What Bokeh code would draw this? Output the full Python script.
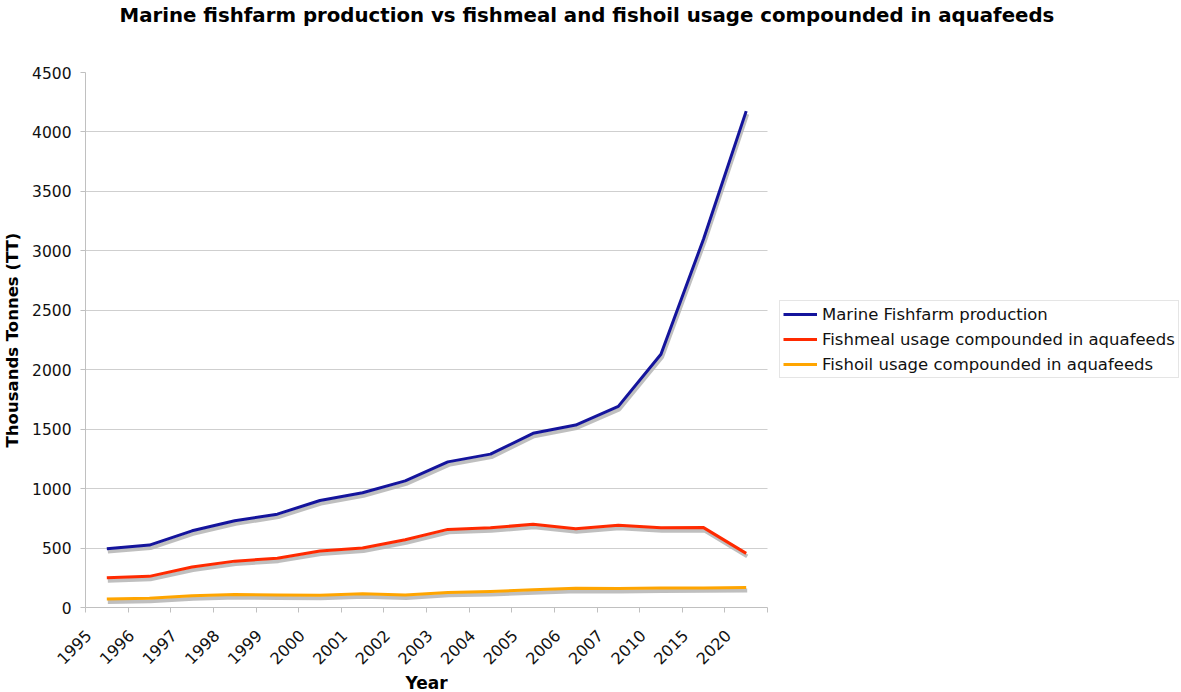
import numpy as np
from bokeh.plotting import figure
from bokeh.models import (Range1d, FixedTicker, SingleIntervalTicker, Legend, LegendItem,
                          BoxAnnotation, Title)
from bokeh.embed import file_html
from bokeh.resources import INLINE

# Category labels along the x axis
years = ["1995", "1996", "1997", "1998", "1999", "2000", "2001", "2002",
         "2003", "2004", "2005", "2006", "2007", "2010", "2015", "2020"]

# Thousands of tonnes
marine_fishfarm = [495, 525, 645, 730, 785, 900, 965, 1065, 1225, 1290,
                   1465, 1535, 1692, 2130, 3100, 4175]
fishmeal_usage = [250, 262, 340, 390, 415, 475, 500, 570, 657, 670,
                  700, 662, 692, 670, 672, 455]
fishoil_usage = [72, 78, 98, 110, 105, 103, 115, 105, 127, 135,
                 150, 162, 160, 163, 165, 168]

series_names = ["Marine Fishfarm production",
                "Fishmeal usage compounded in aquafeeds",
                "Fishoil usage compounded in aquafeeds"]
series_colors = ["#14149c", "#ff2a00", "#ffa500"]

FONT = "DejaVu Sans"
n = len(years)
centers = [i + 0.5 for i in range(n)]
bounds = [float(i) for i in range(n + 1)]
# rotated year labels end a little left of each category centre
label_pos = [i + 0.07 for i in range(n)]

# The frame runs to the right edge of the page; the data occupy the first
# 682 px of it and the legend sits in the remaining strip.
FRAME_W, DATA_W = 1097, 682
x_end = n * FRAME_W / DATA_W

p = figure(frame_width=FRAME_W, frame_height=535,
           x_range=Range1d(0, x_end), y_range=Range1d(0, 4500),
           output_backend="svg", toolbar_location=None,
           min_border_left=84, min_border_right=0, min_border_top=72,
           min_border_bottom=80, outline_line_color=None)

# Offset ranges used to draw a drop shadow a few pixels below/right of each line
p.extra_x_ranges = {"shadow": Range1d(-0.024, x_end - 0.024)}
p.extra_y_ranges = {"shadow": Range1d(25, 4525)}

# blank trailing lines lift the heading to the top edge of the page
p.title.text = "Marine fishfarm production vs fishmeal and fishoil usage compounded in aquafeeds\n \n "
p.title.text_font = FONT
p.title.text_font_size = "19.75px"
p.title.text_font_style = "bold"
p.title.text_color = "#000000"
p.title.align = "left"
p.title.offset = 34
p.title.standoff = 0
p.title.vertical_align = "bottom"

all_series = [marine_fishfarm, fishmeal_usage, fishoil_usage]
for vals in all_series:
    p.line(centers, vals, line_color="#b4b4b4", line_width=4, line_alpha=0.85,
           line_join="round", x_range_name="shadow", y_range_name="shadow")

items = []
for vals, name, col in zip(all_series, series_names, series_colors):
    r = p.line(centers, vals, line_color=col, line_width=3, line_join="round")
    items.append(LegendItem(label=name, renderers=[r]))

# blank out gridlines to the right of the data area
p.add_layout(BoxAnnotation(left=n, fill_color="white", fill_alpha=1,
                           line_color=None, level="underlay"))

# x axis: year labels near category centres, small ticks at category boundaries
xa = p.xaxis[0]
xa.bounds = (0, n)
xa.ticker = FixedTicker(ticks=label_pos, minor_ticks=bounds)
xa.major_label_overrides = {c: y for c, y in zip(label_pos, years)}
xa.major_label_orientation = np.pi / 4
xa.major_tick_out = 0
xa.major_tick_in = 0
xa.minor_tick_out = 5
xa.minor_tick_in = 0
xa.minor_tick_line_color = "#c0c0c0"
xa.axis_line_color = "#c0c0c0"
xa.major_label_text_font = FONT
xa.major_label_text_font_size = "16px"
xa.major_label_text_color = "#111111"
xa.major_label_standoff = 20

# axis title centred under the data area (not the full frame)
year_title = Title(text="Year", align="left", offset=320, standoff=0,
                   vertical_align="top", text_font=FONT, text_font_size="17px",
                   text_font_style="bold", text_color="#000000")
p.add_layout(year_title, "below")

ya = p.yaxis[0]
ya.ticker = SingleIntervalTicker(interval=500, num_minor_ticks=0)
ya.major_tick_out = 5
ya.major_tick_in = 0
ya.major_tick_line_color = "#c0c0c0"
ya.minor_tick_line_color = None
ya.axis_line_color = "#c0c0c0"
ya.major_label_text_font = FONT
ya.major_label_text_font_size = "15.5px"
ya.major_label_text_color = "#111111"
ya.major_label_standoff = 9
ya.axis_label = "Thousands Tonnes (TT)"
ya.axis_label_text_font = FONT
ya.axis_label_text_font_size = "16.5px"
ya.axis_label_text_font_style = "bold"
ya.axis_label_text_color = "#000000"
ya.axis_label_standoff = 7

p.xgrid.grid_line_color = None
p.ygrid.grid_line_color = "#cfcfcf"
p.ygrid.ticker = ya.ticker

legend = Legend(items=items, location=(694, 229))
legend.label_text_font = FONT
legend.label_text_font_size = "16.5px"
legend.label_text_color = "#111111"
legend.glyph_width = 34
legend.glyph_height = 20
legend.label_height = 20
legend.label_standoff = 5
legend.spacing = 5
legend.padding = 3
legend.margin = 0
legend.border_line_color = "#cccccc"
legend.border_line_width = 1
legend.background_fill_color = "white"
legend.background_fill_alpha = 1
p.add_layout(legend, "center")

open("out.html", "w").write(file_html(p, INLINE))
